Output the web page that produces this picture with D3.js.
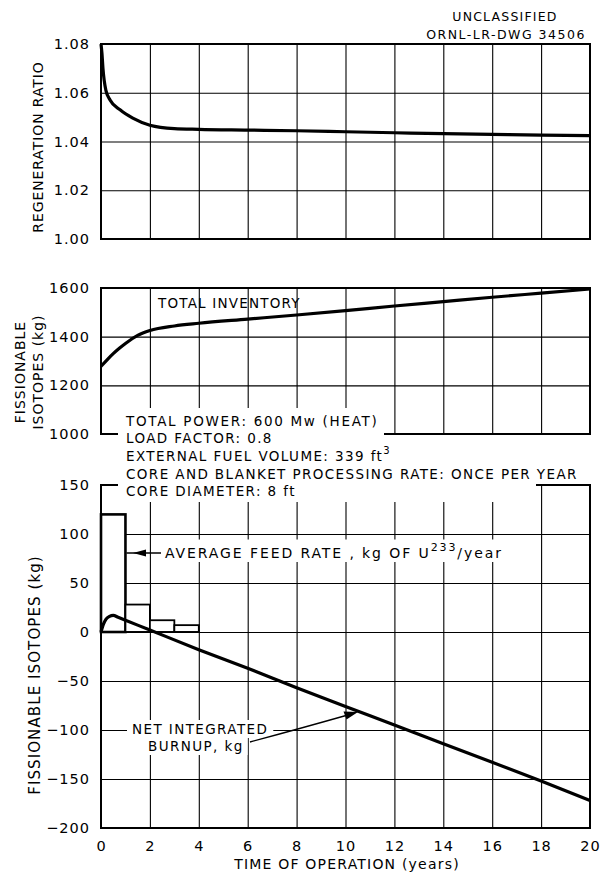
<!DOCTYPE html>
<html><head><meta charset="utf-8">
<script src="https://cdn.jsdelivr.net/npm/d3@7"></script>
<style>
html,body{margin:0;padding:0;background:#fff;}
svg{display:block;font-family:"DejaVu Sans",sans-serif;}
</style></head>
<body>
<svg id="c" width="609" height="879"></svg>
<script>
// ---------- data ----------
const gridYears = [2,4,6,8,10,12,14,16,18];
const xTicks = [0,2,4,6,8,10,12,14,16,18,20];

const regenT = [0,0.04,0.08,0.2,0.37,0.78,1.3,2,3,4,6,8,10,12,14,16,18,20];
const regenV = [1.080,1.076,1.070,1.061,1.057,1.053,1.0496,1.0467,1.0453,1.0450,1.0447,1.0444,1.0440,1.0436,1.0432,1.0429,1.0426,1.0424];
const regenTicks = [1.00,1.02,1.04,1.06,1.08];

const invT = [0,0.25,0.5,0.75,1,1.5,2,3,4,6,8,10,12,14,16,18,20];
const invV = [1278,1305,1330,1352,1372,1405,1425,1444,1455,1472,1489,1507,1526,1544,1562,1579,1596];
const invTicks = [1000,1200,1400,1600];

const feedStart = [0,1,2,3];
const feedEnd = [1,2,3,4];
const feedV = [120,28,12,7];

const burnT = [0,0.1,0.2,0.35,0.5,0.7,1,2,4,6,8,10,12,14,16,18,20];
const burnV = [0,8,13,16,17,15,12,2,-18,-37,-57,-76,-95,-114,-133,-152,-172];
const burnTicks = [-200,-150,-100,-50,0,50,100,150];

const infoLines = [
  "TOTAL POWER: 600 Mw (HEAT)",
  "LOAD FACTOR: 0.8",
  "EXTERNAL FUEL VOLUME: 339 ft",
  "CORE AND BLANKET PROCESSING RATE: ONCE PER YEAR",
  "CORE DIAMETER: 8 ft"
];

// ---------- layout ----------
const svg = d3.select("#c");
const L = 101, R = 590;
const x = d3.scaleLinear([0,20],[L,R]);
const yTop = d3.scaleLinear([1.00,1.08],[239,44]);
const yMid = d3.scaleLinear([1000,1600],[434,288]);
const yBot = d3.scaleLinear([-200,150],[828,485]);

const FS = 14.5;

function panel(y, ticks, fmt) {
  const [y0,y1] = y.range();
  const g = svg.append("g");
  g.append("g").attr("transform",`translate(0,${y0})`)
    .call(d3.axisBottom(x).tickValues(gridYears).tickSize(-(y0-y1)).tickFormat(""))
    .call(s=>s.select(".domain").remove())
    .call(s=>s.selectAll("line").attr("stroke","#000").attr("stroke-width",1.1));
  g.append("g").attr("transform",`translate(${L},0)`)
    .call(d3.axisLeft(y).tickValues(ticks.slice(1,-1)).tickSize(-(R-L)).tickFormat(""))
    .call(s=>s.select(".domain").remove())
    .call(s=>s.selectAll("line").attr("stroke","#000").attr("stroke-width",1.1));
  g.append("rect").attr("x",L).attr("y",y1).attr("width",R-L).attr("height",y0-y1)
    .attr("fill","none").attr("stroke","#000").attr("stroke-width",2);
  g.append("g").attr("transform",`translate(${L},0)`)
    .call(d3.axisLeft(y).tickValues(ticks).tickSize(0).tickPadding(11).tickFormat(fmt))
    .call(s=>s.select(".domain").remove())
    .call(s=>s.selectAll("text").attr("font-size",FS).attr("fill","#000")
      .attr("font-family","DejaVu Sans").attr("letter-spacing",1));
  return g;
}

panel(yTop, regenTicks, d3.format(".2f"));
panel(yMid, invTicks, d3.format("d"));
panel(yBot, burnTicks, d => d < 0 ? "\u2212" + Math.abs(d) : String(d));

svg.append("g").attr("transform",`translate(0,828)`)
  .call(d3.axisBottom(x).tickValues(xTicks).tickSize(0).tickPadding(13))
  .call(s=>s.select(".domain").remove())
  .call(s=>s.selectAll("text").attr("font-size",FS).attr("fill","#000").attr("font-family","DejaVu Sans").attr("letter-spacing",1));

// white masks where the info text breaks the frames/grid
svg.append("rect").attr("x",118).attr("y",408).attr("width",266).attr("height",38).attr("fill","#fff");
svg.append("rect").attr("x",118).attr("y",446).attr("width",418).attr("height",56).attr("fill","#fff");

// ---------- marks ----------
const line = (xs, ys, yS) => d3.line().x((d,i)=>x(xs[i])).y((d,i)=>yS(ys[i])).curve(d3.curveMonotoneX)(xs);

svg.append("path").attr("d", line(regenT, regenV, yTop))
  .attr("fill","none").attr("stroke","#000").attr("stroke-width",3.2).attr("stroke-linejoin","round");
svg.append("path").attr("d", line(invT, invV, yMid))
  .attr("fill","none").attr("stroke","#000").attr("stroke-width",3.2).attr("stroke-linejoin","round");

svg.append("g").selectAll("rect").data(feedV).join("rect")
  .attr("x",(d,i)=>x(feedStart[i])).attr("width",(d,i)=>x(feedEnd[i])-x(feedStart[i]))
  .attr("y",d=>yBot(d)).attr("height",d=>yBot(0)-yBot(d))
  .attr("fill","#fff").attr("stroke","#000").attr("stroke-width",(d,i)=>i===0?2.6:1.8);
svg.append("line").attr("x1",L).attr("x2",x(4)).attr("y1",yBot(0)).attr("y2",yBot(0)).attr("stroke","#000").attr("stroke-width",1.4);
svg.append("line").attr("x1",L).attr("x2",L).attr("y1",485).attr("y2",828).attr("stroke","#000").attr("stroke-width",2);

svg.append("path").attr("d", line(burnT, burnV, yBot))
  .attr("fill","none").attr("stroke","#000").attr("stroke-width",3.2).attr("stroke-linejoin","round");

// ---------- texts ----------
function txt(s, xx, yy, opt={}) {
  const t = svg.append("text").attr("x",xx).attr("y",yy)
    .attr("font-size",opt.fs||13.5).attr("fill","#000")
    .attr("dominant-baseline","central")
    .attr("text-anchor",opt.anchor||"start")
    .attr("letter-spacing",opt.ls!==undefined?opt.ls:1.4)
    .text(s);
  if (opt.rot) t.attr("transform",`rotate(-90,${xx},${yy})`);
  return t;
}
function bg(t, pad=3) {
  const b = t.node().getBBox();
  svg.insert("rect", () => t.node()).attr("x",b.x-pad).attr("y",b.y-1).attr("width",b.width+2*pad).attr("height",b.height+2).attr("fill","#fff");
}

txt("UNCLASSIFIED", 505, 16, {fs:12.5, anchor:"middle", ls:1.2});
txt("ORNL-LR-DWG 34506", 506, 34, {fs:12.5, anchor:"middle", ls:1.5});

txt("REGENERATION RATIO", 38, 147, {fs:14, anchor:"middle", rot:true, ls:0.9});
txt("FISSIONABLE", 20, 372, {fs:14, anchor:"middle", rot:true, ls:1});
txt("ISOTOPES (kg)", 38, 372, {fs:14, anchor:"middle", rot:true, ls:1});
txt("FISSIONABLE ISOTOPES (kg)", 35, 675, {fs:15, anchor:"middle", rot:true, ls:1.1});

txt("TOTAL INVENTORY", 158, 303, {fs:13.5, ls:1.2});

const lineY = [421,438,456,474,491];
infoLines.forEach((s,i)=>{
  const t = txt(s, 126, lineY[i], {ls: i===0 ? 1.7 : 1.4});
  if (i===2) t.append("tspan").attr("dy",-6).attr("font-size",10).text("3");
});

const feedT = txt("AVERAGE FEED RATE , kg OF U", 165, 553, {fs:14, ls:1.9});
feedT.append("tspan").attr("dy",-6).attr("font-size",11).text("233");
feedT.append("tspan").attr("dy",6).text("/year");
bg(feedT, 4);

svg.append("line").attr("x1",x(1)+1).attr("x2",161).attr("y1",553).attr("y2",553).attr("stroke","#000").attr("stroke-width",1.3);
svg.append("path").attr("d","M133,553 L146,549.5 L146,556.5 Z").attr("fill","#000");

const n1 = txt("NET INTEGRATED", 132, 729);
bg(n1, 5);
const n2 = txt("BURNUP, kg", 148, 746);
bg(n2, 4);

svg.append("path").attr("d","M250,742 Q302,728 346,715.5").attr("fill","none").attr("stroke","#000").attr("stroke-width",1.3);
svg.append("path").attr("d","M358,712 L343.5,711.5 L346.5,719.5 Z").attr("fill","#000");

txt("TIME OF OPERATION (years)", 347, 864, {fs:14, anchor:"middle", ls:1.2});
</script>
</body></html>
